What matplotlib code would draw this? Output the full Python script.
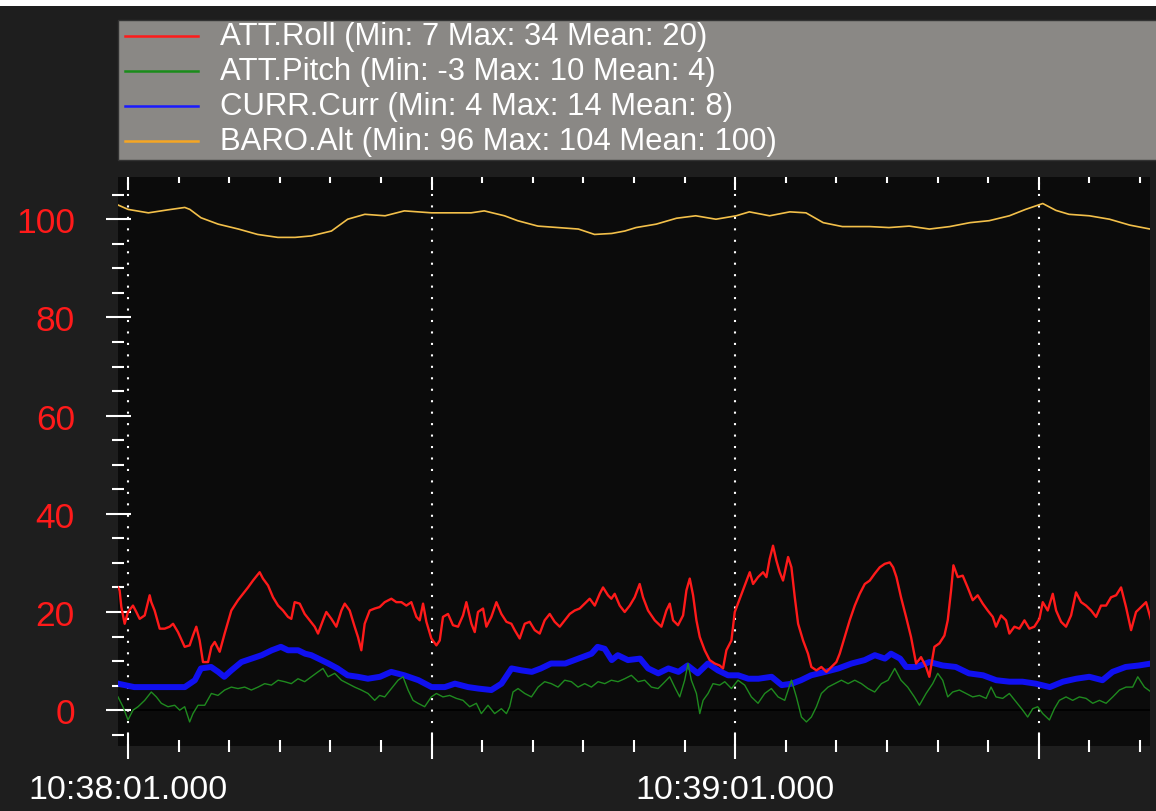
import matplotlib.pyplot as plt
from matplotlib.lines import Line2D
from matplotlib.patches import Rectangle

plt.rcParams['font.family'] = ['Liberation Sans', 'DejaVu Sans']

# time axis in seconds after 10:38:00.000
roll_t = [0, 0.16, 0.33, 0.66, 0.99, 1.48, 1.81, 2.14, 2.64, 3.13,
          3.29, 3.62, 4.12, 4.61, 5.11, 5.44, 5.93, 6.59, 7.08, 7.41,
          7.74, 8.07, 8.40, 8.90, 9.23, 9.56, 10.05, 10.54, 11.20, 11.86,
          12.36, 12.85, 13.34, 14.00, 14.33, 14.83, 15.32, 15.82, 16.31, 16.80,
          17.13, 17.46, 17.96, 18.45, 18.95, 19.44, 19.77, 20.26, 20.59, 21.09,
          21.58, 22.08, 22.41, 22.90, 23.39, 23.72, 24.05, 24.38, 24.88, 25.37,
          25.86, 26.36, 27.02, 27.51, 28.01, 28.50, 28.99, 29.49, 29.82, 30.15,
          30.48, 30.97, 31.47, 31.80, 32.12, 32.62, 33.11, 33.61, 34.10, 34.43,
          34.93, 35.26, 35.58, 36.08, 36.41, 36.90, 37.40, 37.89, 38.39, 38.88,
          39.21, 39.70, 40.20, 40.69, 41.19, 41.68, 42.17, 42.67, 43.16, 43.66,
          44.15, 44.65, 45.14, 45.63, 46.13, 46.62, 47.12, 47.61, 47.94, 48.43,
          48.76, 49.09, 49.59, 50.08, 50.58, 51.07, 51.56, 51.89, 52.39, 53.05,
          53.71, 54.20, 54.53, 54.86, 55.35, 55.85, 56.18, 56.51, 56.84, 57.17,
          57.50, 57.99, 58.48, 58.98, 59.47, 59.80, 60.13, 60.63, 60.96, 61.45,
          61.94, 62.44, 62.77, 63.26, 63.76, 64.09, 64.41, 64.74, 65.07, 65.40,
          65.73, 66.23, 66.56, 66.89, 67.22, 67.71, 68.20, 68.53, 69.03, 69.52,
          70.02, 70.51, 71.00, 71.33, 71.83, 72.32, 72.82, 73.31, 73.81, 74.30,
          74.79, 75.29, 75.78, 76.28, 76.61, 76.94, 77.39, 77.89, 78.38, 78.88,
          79.37, 79.87, 80.19, 80.69, 81.18, 81.68, 82.01, 82.34, 82.57, 83.00,
          83.49, 83.98, 84.48, 84.97, 85.47, 85.96, 86.46, 86.78, 87.28, 87.77,
          88.10, 88.60, 89.09, 89.59, 90.08, 90.57, 91.07, 91.40, 91.89, 92.39,
          92.72, 93.21, 93.70, 94.20, 94.69, 95.19, 95.68, 96.18, 96.67, 97.16,
          97.66, 98.15, 98.65, 99.14, 99.63, 100.13, 100.62, 101.12, 101.61, 102.11]
roll = [25.0, 24.4, 21.0, 17.6, 20.0, 21.3, 20.0, 18.6, 19.3, 23.4,
        22.0, 20.3, 16.6, 16.6, 17.0, 17.6, 15.9, 12.9, 13.2, 15.2,
        17.0, 14.2, 9.8, 9.8, 12.9, 13.9, 11.9, 15.6, 20.3, 22.4,
        23.7, 25.0, 26.4, 28.1, 26.8, 25.4, 23.0, 21.3, 20.3, 19.0,
        18.6, 22.0, 21.7, 19.6, 18.3, 17.0, 15.6, 18.3, 20.0, 18.6,
        17.0, 20.3, 21.7, 20.3, 17.0, 14.9, 12.2, 17.6, 20.3, 20.7,
        21.0, 22.0, 22.7, 22.0, 22.0, 21.3, 22.0, 19.0, 18.3, 21.7,
        18.0, 14.6, 13.2, 14.2, 19.0, 19.6, 17.3, 17.0, 19.3, 22.0,
        17.6, 15.9, 20.0, 20.7, 17.0, 19.0, 22.0, 19.6, 18.0, 17.6,
        16.3, 14.6, 17.6, 18.0, 16.3, 15.6, 18.3, 19.6, 18.0, 17.0,
        18.3, 19.6, 20.3, 20.7, 21.7, 22.7, 21.3, 23.7, 25.0, 23.4,
        22.7, 23.7, 21.3, 20.0, 21.3, 23.0, 25.7, 23.0, 20.3, 18.3,
        17.0, 20.3, 21.7, 18.3, 17.3, 19.3, 24.4, 26.8, 23.4, 18.3,
        14.9, 12.2, 10.2, 9.5, 9.1, 8.5, 12.2, 14.2, 20.0, 22.7,
        25.4, 28.1, 25.7, 27.1, 28.1, 27.1, 30.8, 33.5, 30.5, 28.1,
        26.4, 31.2, 29.1, 23.0, 17.6, 14.2, 11.5, 8.8, 8.1, 8.8,
        7.8, 8.8, 9.8, 11.5, 14.9, 18.3, 21.3, 23.7, 25.7, 26.4,
        27.8, 29.1, 29.8, 30.1, 29.1, 27.1, 23.0, 19.0, 14.9, 9.5,
        10.8, 8.8, 6.8, 12.9, 13.6, 15.2, 18.3, 24.4, 29.5, 27.1,
        27.4, 25.0, 22.4, 23.4, 21.7, 20.3, 19.0, 17.0, 19.3, 18.3,
        15.6, 17.0, 16.6, 18.3, 16.6, 17.0, 18.6, 22.0, 20.3, 23.7,
        20.3, 18.0, 17.0, 19.3, 24.0, 22.0, 21.3, 20.3, 19.0, 21.3,
        21.3, 23.0, 23.4, 25.0, 21.0, 16.3, 20.0, 21.0, 22.0, 18.3]

pitch_t = [0, 0.49, 0.99, 1.48, 1.98, 2.64, 3.29, 3.79, 4.28, 4.94,
           5.60, 6.10, 6.59, 7.08, 7.41, 7.91, 8.57, 9.23, 9.88, 10.54,
           11.20, 11.86, 12.52, 13.18, 13.84, 14.50, 15.16, 15.82, 16.47, 17.13,
           17.79, 18.45, 19.11, 19.77, 20.26, 20.76, 21.42, 22.08, 22.73, 23.39,
           24.05, 24.71, 25.37, 25.86, 26.36, 27.02, 27.68, 28.17, 28.67, 29.16,
           29.65, 30.31, 30.97, 31.47, 32.12, 32.78, 33.44, 34.10, 34.76, 35.42,
           35.91, 36.57, 37.23, 37.89, 38.39, 38.71, 39.04, 39.54, 40.20, 40.86,
           41.52, 42.17, 42.83, 43.49, 44.15, 44.81, 45.47, 46.13, 46.79, 47.45,
           48.11, 48.76, 49.42, 50.08, 50.74, 51.40, 52.06, 52.72, 53.38, 53.87,
           54.53, 55.02, 55.52, 56.01, 56.34, 56.67, 57.17, 57.50, 57.83, 58.32,
           58.81, 59.47, 59.97, 60.63, 61.28, 61.94, 62.60, 63.26, 63.92, 64.58,
           65.24, 65.90, 66.56, 67.05, 67.55, 68.04, 68.53, 69.03, 69.52, 70.18,
           70.84, 71.50, 72.16, 72.82, 73.48, 74.13, 74.79, 75.45, 76.11, 76.77,
           77.39, 78.05, 78.71, 79.21, 79.87, 80.52, 81.02, 81.51, 82.01, 82.50,
           83.16, 83.82, 84.48, 85.14, 85.80, 86.29, 86.78, 87.44, 88.10, 88.76,
           89.42, 89.91, 90.41, 90.90, 91.40, 92.06, 92.55, 93.04, 93.70, 94.36,
           95.02, 95.68, 96.34, 97.00, 97.66, 98.32, 98.98, 99.63, 100.29, 100.79,
           101.45, 102.11]
pitch = [2.7, 0.7, -2.0, 0.0, 0.7, 2.0, 3.7, 2.7, 1.4, 0.7,
         1.0, 0.0, 0.7, -2.4, -0.7, 1.0, 1.0, 3.4, 3.0, 4.1,
         4.7, 4.4, 4.7, 4.1, 4.7, 5.4, 5.1, 6.1, 5.8, 5.4,
         6.4, 5.8, 6.8, 7.8, 8.5, 6.8, 7.5, 6.1, 5.4, 4.7,
         4.1, 3.4, 2.0, 3.0, 2.7, 4.4, 6.1, 6.8, 4.1, 2.0,
         1.4, 0.7, 2.7, 3.4, 2.7, 3.0, 2.4, 2.0, 0.7, 1.4,
         -0.7, 1.0, -0.7, 0.3, -0.7, 0.7, 3.7, 4.4, 3.4, 2.7,
         4.7, 5.8, 5.4, 4.7, 6.1, 5.8, 4.7, 5.4, 4.7, 5.8,
         5.4, 6.1, 5.8, 6.4, 7.1, 5.8, 6.1, 4.7, 4.4, 5.4,
         6.8, 4.7, 2.7, 6.1, 9.5, 6.1, 3.4, -0.7, 2.0, 3.4,
         5.4, 5.1, 5.8, 4.4, 6.1, 5.1, 2.7, 1.4, 3.4, 4.4,
         2.7, 2.0, 6.1, 2.7, -1.4, -2.4, -1.4, 0.7, 3.4, 4.7,
         5.4, 6.1, 5.4, 6.1, 5.4, 4.4, 3.7, 5.4, 6.1, 8.5,
         6.1, 4.7, 2.7, 1.0, 3.4, 5.4, 7.5, 6.1, 2.7, 3.7,
         4.1, 3.4, 2.7, 3.0, 2.4, 4.7, 2.7, 2.4, 3.4, 1.7,
         0.0, -1.4, 0.3, 0.7, -0.7, -2.0, 0.3, 2.0, 2.7, 2.0,
         2.7, 2.4, 1.4, 2.0, 1.4, 2.7, 4.1, 4.7, 4.7, 6.8,
         4.7, 3.7]

curr_t = [0, 1.6, 3.3, 4.9, 6.6, 7.6, 8.2, 9.2, 9.9, 10.5,
          11.2, 12.2, 13.2, 14.2, 15.2, 16.1, 16.8, 17.8, 18.5, 19.1,
          19.8, 20.8, 21.7, 22.7, 23.7, 24.7, 25.9, 27.0, 28.3, 29.7,
          31.0, 32.3, 33.3, 34.6, 35.6, 36.9, 37.9, 38.9, 39.9, 40.9,
          41.8, 42.8, 44.2, 45.5, 46.8, 47.4, 48.1, 48.8, 49.4, 50.4,
          51.6, 52.4, 53.4, 54.4, 55.4, 56.3, 57.3, 58.3, 59.3, 60.3,
          61.3, 62.3, 63.3, 64.6, 65.6, 66.6, 67.5, 68.5, 69.9, 71.2,
          72.5, 73.8, 74.8, 75.8, 76.4, 77.3, 77.9, 78.9, 80.2, 81.5,
          82.8, 84.1, 85.5, 86.8, 88.1, 89.4, 90.7, 92.1, 93.4, 94.7,
          96.0, 97.3, 98.3, 99.6, 100.9, 102.1]
curr = [5.4, 4.7, 4.7, 4.7, 4.7, 6.1, 8.5, 8.8, 7.8, 6.8,
        8.1, 9.8, 10.5, 11.2, 12.2, 12.9, 12.2, 12.2, 11.5, 11.2,
        10.5, 9.5, 8.5, 7.1, 6.8, 6.4, 6.8, 7.8, 7.1, 6.1,
        4.7, 4.7, 5.4, 4.7, 4.4, 4.1, 5.4, 8.5, 8.1, 7.8,
        8.5, 9.5, 9.5, 10.5, 11.5, 12.9, 12.5, 10.2, 11.2, 10.2,
        10.5, 8.5, 7.5, 8.5, 7.8, 9.1, 7.5, 9.5, 8.1, 7.1,
        7.1, 6.4, 6.4, 6.8, 5.1, 5.4, 6.1, 7.1, 7.8, 8.5,
        9.5, 10.2, 11.2, 10.5, 11.5, 10.5, 8.8, 8.8, 9.8, 9.1,
        8.8, 7.5, 7.1, 6.1, 5.8, 5.8, 5.4, 4.7, 5.8, 6.4,
        6.8, 6.1, 7.8, 8.8, 9.1, 9.5]

baro_t = [0, 1.0, 3.0, 4.9, 6.6, 7.1, 8.2, 9.9, 11.9, 13.8,
          15.8, 17.5, 19.1, 21.1, 22.7, 24.4, 26.4, 28.3, 31.0, 32.9,
          34.9, 36.2, 38.2, 39.5, 41.5, 43.5, 45.5, 47.1, 48.8, 50.1,
          51.2, 53.2, 55.2, 57.1, 59.1, 61.1, 62.4, 64.4, 66.4, 68.0,
          69.7, 71.6, 74.3, 76.2, 78.2, 80.2, 82.2, 84.2, 86.1, 88.1,
          89.7, 91.4, 92.7, 94.0, 96.0, 98.0, 100.0, 102.0]
baro = [102.9, 102.0, 101.3, 101.9, 102.4, 102.0, 100.3, 99.0, 98.0, 96.9,
        96.3, 96.3, 96.6, 97.6, 100.0, 101.0, 100.7, 101.7, 101.3, 101.3,
        101.3, 101.7, 100.7, 99.7, 98.6, 98.3, 98.0, 96.9, 97.1, 97.6,
        98.3, 99.0, 100.2, 100.7, 100.0, 100.7, 101.5, 100.7, 101.5, 101.3,
        99.3, 98.5, 98.5, 98.3, 98.6, 98.0, 98.5, 99.3, 99.7, 100.7,
        102.0, 103.2, 101.8, 101.0, 100.7, 100.0, 98.8, 98.0]

legend_labels = ["ATT.Roll (Min: 7 Max: 34 Mean: 20)",
                 "ATT.Pitch (Min: -3 Max: 10 Mean: 4)",
                 "CURR.Curr (Min: 4 Max: 14 Mean: 8)",
                 "BARO.Alt (Min: 96 Max: 104 Mean: 100)"]
legend_colors = ['#ff1a1a', '#1a8c1a', '#1a1aff', '#f5a623']

major_x = [1, 31, 61, 91]
major_x_labels = ["10:38:01.000", "", "10:39:01.000", ""]
minor_x = [6, 11, 16, 21, 26, 36, 41, 46, 51, 56, 66, 71, 76, 81, 86, 96, 101]

W, H = 1156, 812
fig = plt.figure(figsize=(W / 100, H / 100), dpi=100, facecolor='#1e1e1e')

# white strip along the very top
fig.patches.append(Rectangle((0, 1 - 7 / H), 1, 7 / H, transform=fig.transFigure,
                             facecolor='white', edgecolor='none'))

ax = fig.add_axes([118 / W, 65 / H, 1032 / W, 569 / H])
ax.set_facecolor('#0b0b0b')

ax.plot(baro_t, baro, color='#f3c04a', lw=1.2, zorder=3)
ax.plot(curr_t, curr, color='#1010f0', lw=4.3, zorder=4)
ax.plot(pitch_t, pitch, color='#1f8a1f', lw=1.0, zorder=5)
ax.plot(roll_t, roll, color='#ff1a1a', lw=1.7, zorder=6)
ax.axhline(0, color='#000000', lw=1.2, zorder=1)
for t in major_x:
    ax.axvline(t, color='white', lw=1.5, ls=(0, (1, 4.5)), zorder=2)

ax.set_xlim(0, 102)
ax.set_ylim(-7.3, 108.6)
for s in ax.spines.values():
    s.set_visible(False)

ax.set_xticks(major_x, labels=major_x_labels)
ax.set_xticks(minor_x, minor=True)
ax.tick_params(axis='x', which='major', direction='inout', length=18, width=1.5,
               color='white', labelcolor='white', labelsize=24.5, pad=11)
ax.tick_params(axis='x', which='minor', direction='inout', length=9, width=1.5, color='white')

ax.set_yticks([0, 20, 40, 60, 80, 100])
ax.set_yticks([-5, 5, 10, 15, 25, 30, 35, 45, 50, 55, 65, 70, 75, 85, 90, 95, 105], minor=True)
ax.tick_params(axis='y', which='major', direction='inout', length=18, width=1.5,
               color='white', labelcolor='#ff1a1a', labelsize=25.5, pad=22)
ax.tick_params(axis='y', which='minor', direction='inout', length=9, width=1.5, color='white')

top = ax.secondary_xaxis('top')
top.set_xticks(major_x, labels=[''] * len(major_x))
top.set_xticks(minor_x, minor=True)
top.tick_params(which='major', direction='in', length=9.5, width=1.5, color='white')
top.tick_params(which='minor', direction='in', length=4, width=1.5, color='white')
top.spines['top'].set_visible(False)

# legend box drawn in figure pixels
fig.patches.append(Rectangle((118 / W, 1 - 161 / H), (1160 - 118) / W, 140 / H,
                             transform=fig.transFigure, facecolor='#8a8885',
                             edgecolor='#333333', lw=1))
for i, (lab, col) in enumerate(zip(legend_labels, legend_colors)):
    y = 1 - (36.7 + 35 * i) / H
    fig.lines.append(Line2D([125 / W, 198 / W], [y, y], transform=fig.transFigure,
                            color=col, lw=1.8))
    fig.text(220 / W, y, lab, color='white', fontsize=22.4, va='center', ha='left')

fig.savefig('out.png', dpi=100, facecolor=fig.get_facecolor())
